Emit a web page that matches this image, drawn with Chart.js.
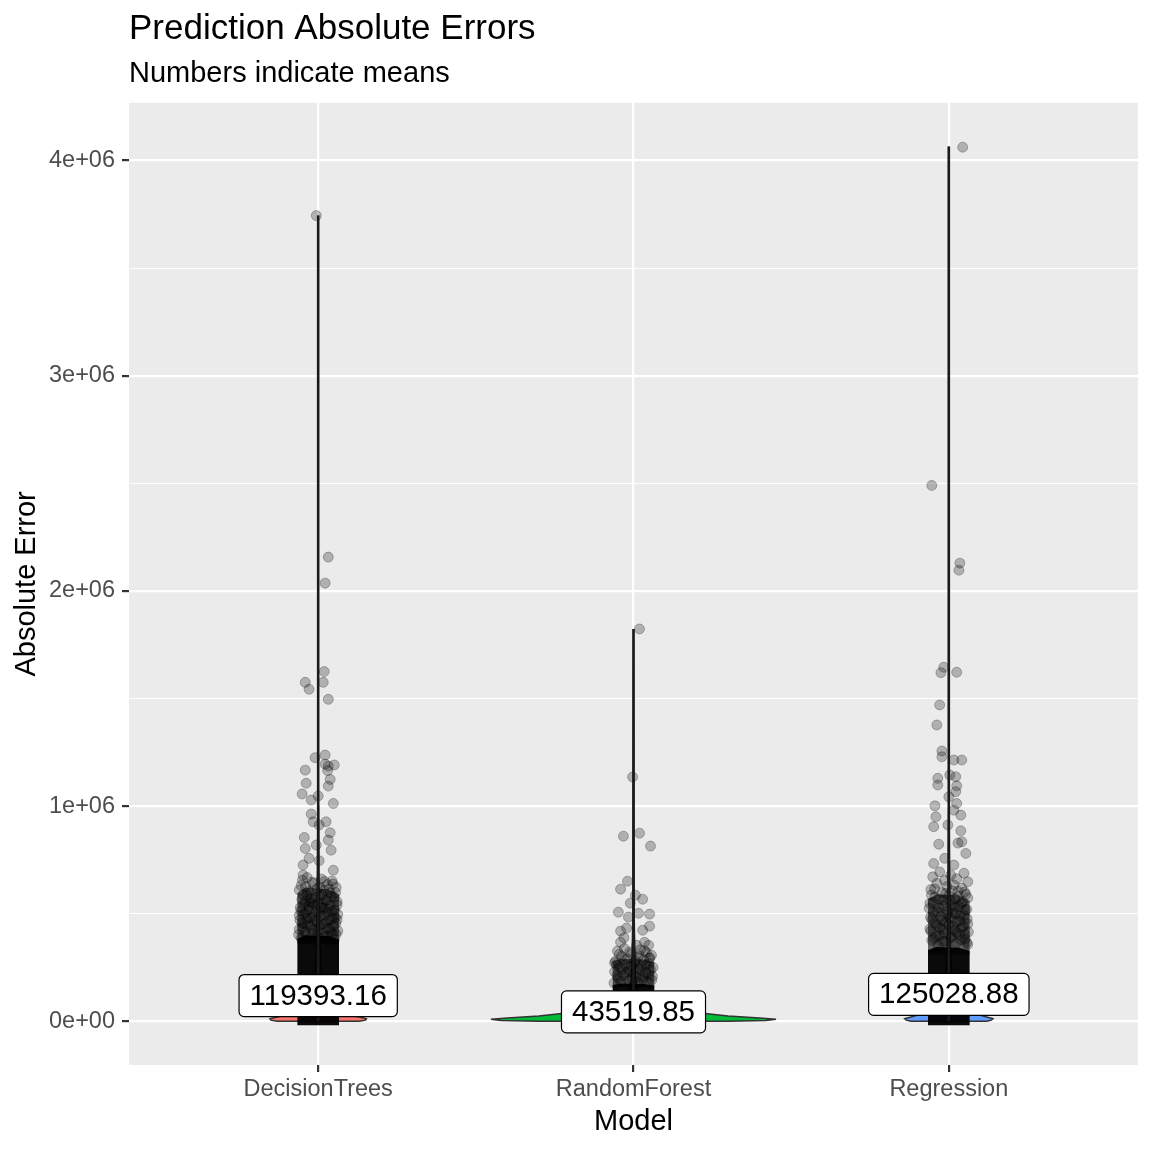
<!DOCTYPE html>
<html>
<head>
<meta charset="utf-8">
<title>Prediction Absolute Errors</title>
<script src="https://cdn.jsdelivr.net/npm/chart.js@4.4.1/dist/chart.umd.min.js"></script>
<style>
body { margin: 0; background: #ffffff; }
canvas { display: block; }
</style>
</head>
<body>
<canvas id="errorsChart" width="1152" height="1152"></canvas>
<script>

// models on the x axis and their mean absolute errors (the labels)
const models = ["DecisionTrees", "RandomForest", "Regression"];
const modelColors = ["#F8766D", "#00BA38", "#619CFF"];
const means = [119393.16, 43519.85, 125028.88];
const maxErrors = [3744000, 1823000, 4065000];

// y axis ticks
const yMajorTicks = [0, 1000000, 2000000, 3000000, 4000000];
const yTickLabels = ["0e+00", "1e+06", "2e+06", "3e+06", "4e+06"];
const yMinorTicks = [500000, 1500000, 2500000, 3500000];

// violin outlines: error value and half width (in category units)
const dtViolinY = [0, 5000, 12000, 20000, 35000, 60000, 100000, 200000, 400000, 1000000, 3744000];
const dtViolinW = [0.13, 0.15, 0.153, 0.13, 0.09, 0.05, 0.025, 0.01, 0.004, 0.001, 0];
const rfViolinY = [0, 4000, 9000, 15000, 25000, 37000, 50000, 70000, 100000, 200000, 500000, 1823000];
const rfViolinW = [0.30, 0.42, 0.452, 0.40, 0.30, 0.22, 0.12, 0.05, 0.02, 0.006, 0.002, 0];
const regViolinY = [0, 5000, 12000, 20000, 35000, 60000, 100000, 200000, 400000, 1000000, 4065000];
const regViolinW = [0.12, 0.135, 0.14, 0.12, 0.085, 0.05, 0.025, 0.01, 0.004, 0.001, 0];

// jittered points: [offset from category, absolute error]
const dtPoints = [
[-0.006,3744000],[0.032,2157000],[0.022,2036000],[0.019,1625000],[-0.041,1575000],[0.016,1575000],
[-0.029,1543000],[0.032,1496000],[-0.010,1225000],[0.022,1237000],[0.022,1195000],[0.051,1191000],
[0.032,1186000],[-0.041,1167000],[0.030,1165000],[0.038,1124000],[-0.038,1106000],[0.032,1093000],
[-0.051,1056000],[0.000,1047000],[-0.022,1028000],[0.048,1012000],[-0.022,963000],[-0.016,927000],
[0.025,927000],[0.003,912000],[0.038,876000],[-0.044,854000],[0.032,842000],[-0.006,819000],
[-0.041,803000],[0.041,795000],[-0.029,757000],[0.003,746000],[-0.048,726000],[0.048,702000],
[-0.048,679000],[-0.035,668000],[0.010,661000],[0.044,652000],[-0.019,647000],[0.029,636000],
[-0.054,631000],[0.057,622000],[-0.003,617000],[0.019,608000],[-0.032,604000],[0.038,596000],
[-0.048,589000],[0.006,583000],[0.051,575000],[-0.022,571000],[0.025,561000],[-0.041,557000],
[0.013,548000],[0.060,541000],[-0.013,538000],[-0.057,529000],[0.032,522000],[-0.029,519000],
[0.044,511000],[0.003,504000],[-0.044,499000],[0.022,493000],[-0.016,486000],[0.054,481000],
[-0.035,477000],[0.035,469000],[-0.003,463000],[-0.051,457000],[0.016,451000],[0.048,445000],
[-0.025,441000],[0.029,433000],[-0.060,427000],[0.000,421000],[0.041,415000],[-0.019,409000],
[0.057,404000],[-0.038,398000],[0.019,392000],[-0.054,386000],[0.051,380000],[-0.010,375000],
[0.035,369000],[-0.044,452000],[0.060,472000],[-0.060,492000],[0.008,531000],[-0.026,553000],
[-0.050,655000],[0.020,650000],[-0.015,641000],[0.047,638000],[-0.040,626000],[0.005,624000],
[0.035,613000],[-0.060,610000],[-0.025,600000],[0.055,598000],[0.012,590000],[-0.035,585000],
[0.042,579000],[-0.008,574000],[-0.052,566000],[0.028,563000],[0.060,556000],[-0.020,551000],
[0.000,545000],[-0.045,543000],[0.038,536000],[-0.030,532000],[0.015,527000],[0.052,516000],
[-0.055,514000],[-0.006,510000],[0.030,507000],[-0.038,503000],[0.062,497000],[0.010,490000],
[-0.026,482000],[0.044,476000],[-0.058,470000],[-0.012,466000],[0.024,459000],[0.056,454000],
[-0.032,448000],[0.004,443000],[-0.050,437000],[0.036,430000],[-0.016,425000],[0.062,420000],
[-0.042,414000],[0.014,410000],[0.046,406000],[-0.062,402000],[-0.004,398000],[0.028,396000]
];
const rfPoints = [
[0.019,1823000],[-0.003,1135000],[-0.032,860000],[0.019,874000],[0.054,814000],[-0.019,651000],
[-0.041,614000],[0.006,586000],[0.029,567000],[-0.010,549000],[-0.048,507000],[0.016,502000],
[0.051,498000],[-0.016,484000],[0.051,442000],[-0.041,419000],[0.029,423000],[-0.022,433000],
[-0.041,367000],[0.035,367000],[0.010,353000],[0.048,353000],[-0.029,338000],[0.022,332000],
[-0.051,326000],[0.041,319000],[-0.006,314000],[0.057,307000],[-0.038,301000],[0.013,296000],
[-0.019,290000],[0.032,284000],[-0.057,279000],[0.003,273000],[0.048,268000],[-0.025,262000],
[0.025,257000],[-0.044,251000],[0.016,246000],[0.054,240000],[-0.013,236000],[-0.060,230000],
[0.038,225000],[0.000,220000],[-0.032,214000],[0.060,209000],[0.010,204000],[-0.048,199000],
[0.029,194000],[-0.016,189000],[0.044,184000],[-0.054,262000],[0.052,295000],[-0.030,388000],
[0.035,328000],[-0.012,322000],[-0.045,311000],[0.018,305000],[0.050,292000],[-0.028,287000],
[0.006,281000],[-0.060,271000],[0.040,264000],[-0.006,255000],[0.062,250000],[-0.036,244000],
[0.020,238000],[-0.020,228000],[0.046,218000],[-0.052,211000],[0.030,206000],[-0.004,197000],
[0.058,192000],[-0.040,186000],[0.012,181000],[-0.062,178000]
];
const regPoints = [
[0.044,4062000],[-0.054,2490000],[0.035,2129000],[0.032,2096000],[-0.016,1645000],[-0.025,1620000],
[0.025,1622000],[-0.029,1470000],[-0.038,1377000],[-0.022,1256000],[-0.022,1229000],[0.016,1214000],
[0.041,1214000],[0.003,1144000],[0.022,1136000],[-0.035,1129000],[-0.035,1098000],[0.025,1094000],
[0.022,1067000],[0.000,1043000],[-0.044,1001000],[0.025,1012000],[0.016,981000],[-0.041,950000],
[0.038,958000],[-0.048,904000],[-0.003,912000],[0.038,885000],[-0.032,823000],[0.041,834000],
[0.029,828000],[0.054,780000],[-0.048,733000],[-0.013,757000],[0.016,726000],[-0.029,694000],
[0.048,688000],[0.006,679000],[-0.051,671000],[0.025,662000],[-0.013,655000],[0.060,648000],
[-0.038,641000],[0.016,633000],[-0.006,626000],[0.041,619000],[-0.057,612000],[0.029,604000],
[-0.022,598000],[0.054,590000],[0.000,584000],[-0.044,577000],[0.019,569000],[-0.016,563000],
[0.044,556000],[-0.060,548000],[0.010,541000],[0.032,534000],[-0.032,528000],[0.057,520000],
[-0.003,513000],[-0.048,506000],[0.022,500000],[0.048,493000],[-0.025,487000],[0.003,480000],
[-0.054,473000],[0.035,466000],[-0.010,459000],[0.060,452000],[-0.038,446000],[0.013,439000],
[0.041,432000],[-0.019,426000],[-0.057,419000],[0.025,412000],[0.051,405000],[-0.029,399000],
[0.006,392000],[-0.048,386000],[0.038,379000],[-0.013,372000],[0.057,366000],
[-0.045,615000],[0.010,607000],[0.050,601000],[-0.010,594000],[-0.055,587000],[0.030,581000],
[0.060,573000],[-0.030,566000],[0.004,559000],[-0.050,553000],[0.040,546000],[-0.018,538000],
[0.020,531000],[-0.062,524000],[0.052,517000],[-0.036,510000],[0.014,503000],[-0.004,496000],
[0.036,489000],[-0.058,483000],[0.058,476000],[-0.022,470000],[0.026,463000],[-0.044,456000],
[0.000,449000],[0.046,442000],[-0.028,435000],[-0.060,429000],[0.018,422000],[0.062,415000],
[-0.014,409000],[0.034,402000],[-0.040,395000],[0.008,389000],[0.052,382000],[-0.054,376000],
[-0.020,369000],[0.024,363000],[0.060,357000],[-0.034,352000]
];

// solid mass of overlapping points near zero: top value of the block,
// and the top of the darker, half-filled band above it
const coreTops = [400000, 175000, 345000];
const bandTops = [620000, 290000, 590000];
const coreHalfWidth = 0.066;

const yMin = -203250;
const yMax = 4268250;
const FONT = "'Liberation Sans', Arial, Helvetica, sans-serif";

function violinOutline(center, ys, ws) {
  let pts = [];
  for (let i = 0; i < ys.length; i++) pts.push({x: center + ws[i], y: ys[i]});
  for (let i = ys.length - 1; i >= 0; i--) pts.push({x: center - ws[i], y: ys[i]});
  pts.push({x: center + ws[0], y: ys[0]});
  return pts;
}

function blockPolygon(center, top, bottom) {
  const w = coreHalfWidth;
  return [
    {x: center - w, y: bottom},
    {x: center - w, y: top * 0.96},
    {x: center - w * 0.6, y: top},
    {x: center + w * 0.5, y: top * 0.99},
    {x: center + w, y: top * 0.95},
    {x: center + w, y: bottom},
    {x: center - w, y: bottom}
  ];
}

const violinData = [
  violinOutline(1, dtViolinY, dtViolinW),
  violinOutline(2, rfViolinY, rfViolinW),
  violinOutline(3, regViolinY, regViolinW)
];
const pointData = [dtPoints, rfPoints, regPoints];

let datasets = [];

// violins
for (let i = 0; i < models.length; i++) {
  datasets.push({
    type: 'scatter',
    data: violinData[i],
    showLine: true,
    fill: 'shape',
    backgroundColor: modelColors[i],
    borderColor: '#333333',
    borderWidth: 1.5,
    pointRadius: 0,
    tension: 0,
    order: 6
  });
}

// half-dense band and dense core of points
for (let i = 0; i < models.length; i++) {
  datasets.push({
    type: 'scatter',
    data: blockPolygon(i + 1, bandTops[i], coreTops[i] * 0.9),
    showLine: true,
    fill: 'shape',
    backgroundColor: 'rgba(0,0,0,0.58)',
    borderColor: 'rgba(0,0,0,0)',
    borderWidth: 0,
    pointRadius: 0,
    order: 5
  });
  datasets.push({
    type: 'scatter',
    data: blockPolygon(i + 1, coreTops[i], -18000),
    showLine: true,
    fill: 'shape',
    backgroundColor: 'rgba(0,0,0,0.96)',
    borderColor: 'rgba(0,0,0,0)',
    borderWidth: 0,
    pointRadius: 0,
    order: 4
  });
}

// jittered points
for (let i = 0; i < models.length; i++) {
  datasets.push({
    type: 'scatter',
    data: pointData[i].map(p => ({x: i + 1 + p[0], y: p[1]})),
    backgroundColor: 'rgba(0,0,0,0.25)',
    borderColor: 'rgba(0,0,0,0.25)',
    borderWidth: 1,
    pointRadius: 5,
    order: 3
  });
}

// vertical range lines from zero to the max error
for (let i = 0; i < models.length; i++) {
  datasets.push({
    type: 'scatter',
    data: [{x: i + 1, y: 0}, {x: i + 1, y: maxErrors[i]}],
    showLine: true,
    borderColor: '#1a1a1a',
    borderWidth: 2.6,
    pointRadius: 0,
    order: 1
  });
}

const panelBackground = {
  id: 'panelBackground',
  beforeDraw(chart) {
    const {ctx, chartArea} = chart;
    ctx.save();
    ctx.fillStyle = '#EBEBEB';
    ctx.fillRect(chartArea.left, chartArea.top, chartArea.right - chartArea.left, chartArea.bottom - chartArea.top);
    ctx.restore();
  }
};

const meanLabels = {
  id: 'meanLabels',
  afterDatasetsDraw(chart) {
    const ctx = chart.ctx;
    const xs = chart.scales.x;
    const ys = chart.scales.y;
    ctx.save();
    ctx.font = "29.5px " + FONT;
    ctx.textAlign = 'center';
    ctx.textBaseline = 'middle';
    for (let i = 0; i < means.length; i++) {
      const text = means[i].toFixed(2);
      const px = xs.getPixelForValue(i + 1);
      const py = ys.getPixelForValue(means[i]);
      const w = ctx.measureText(text).width + 21;
      const h = 42;
      ctx.beginPath();
      ctx.roundRect(px - w / 2, py - h / 2, w, h, 5);
      ctx.fillStyle = '#ffffff';
      ctx.fill();
      ctx.lineWidth = 1.2;
      ctx.strokeStyle = '#000000';
      ctx.stroke();
      ctx.fillStyle = '#000000';
      ctx.fillText(text, px, py + 1);
    }
    ctx.restore();
  }
};

const ctx = document.getElementById('errorsChart').getContext('2d');

new Chart(ctx, {
  type: 'scatter',
  data: { datasets: datasets },
  plugins: [panelBackground, meanLabels],
  options: {
    responsive: false,
    animation: false,
    devicePixelRatio: 1,
    events: [],
    layout: { padding: { top: 0, left: 0, right: 14, bottom: 0 } },
    plugins: {
      legend: { display: false },
      tooltip: { enabled: false },
      title: {
        display: true,
        text: 'Prediction Absolute Errors',
        align: 'start',
        fullSize: false,
        color: '#000000',
        font: { family: FONT, size: 35, weight: 'normal' },
        padding: { top: 8, bottom: 0 }
      },
      subtitle: {
        display: true,
        text: 'Numbers indicate means',
        align: 'start',
        fullSize: false,
        color: '#000000',
        font: { family: FONT, size: 29, weight: 'normal' },
        padding: { top: 7, bottom: 11 }
      }
    },
    scales: {
      x: {
        type: 'linear',
        min: 0.4,
        max: 3.6,
        afterBuildTicks(scale) {
          scale.ticks = models.map((m, i) => ({ value: i + 1 }));
        },
        afterFit(scale) { scale.height = 87; },
        ticks: {
          autoSkip: false,
          maxRotation: 0,
          padding: 3,
          color: '#4D4D4D',
          font: { family: FONT, size: 23.5 },
          callback: (v) => models[Math.round(v) - 1]
        },
        grid: {
          color: '#FFFFFF',
          lineWidth: 2.2,
          tickColor: '#333333',
          tickLength: 7,
          drawTicks: true
        },
        border: { display: false },
        title: {
          display: true,
          text: 'Model',
          color: '#000000',
          font: { family: FONT, size: 29 },
          padding: { top: 0, bottom: 13 }
        }
      },
      y: {
        type: 'linear',
        min: yMin,
        max: yMax,
        afterBuildTicks(scale) {
          scale.ticks = yMajorTicks.concat(yMinorTicks).sort((a, b) => a - b).map(v => ({ value: v }));
        },
        afterFit(scale) { scale.width = 129; },
        ticks: {
          autoSkip: false,
          padding: 7,
          color: '#4D4D4D',
          font: { family: FONT, size: 23.5 },
          callback: (v) => {
            const k = yMajorTicks.indexOf(v);
            return k >= 0 ? yTickLabels[k] : '';
          }
        },
        grid: {
          color: '#FFFFFF',
          lineWidth: (c) => (c.tick && yMajorTicks.includes(c.tick.value)) ? 2.2 : 1.1,
          tickColor: (c) => (c.tick && yMajorTicks.includes(c.tick.value)) ? '#333333' : 'rgba(0,0,0,0)',
          tickLength: 7,
          drawTicks: true
        },
        border: { display: false },
        title: {
          display: true,
          text: 'Absolute Error',
          color: '#000000',
          font: { family: FONT, size: 29 },
          padding: { top: 10, bottom: 0 }
        }
      }
    }
  }
});
</script>
</body>
</html>
